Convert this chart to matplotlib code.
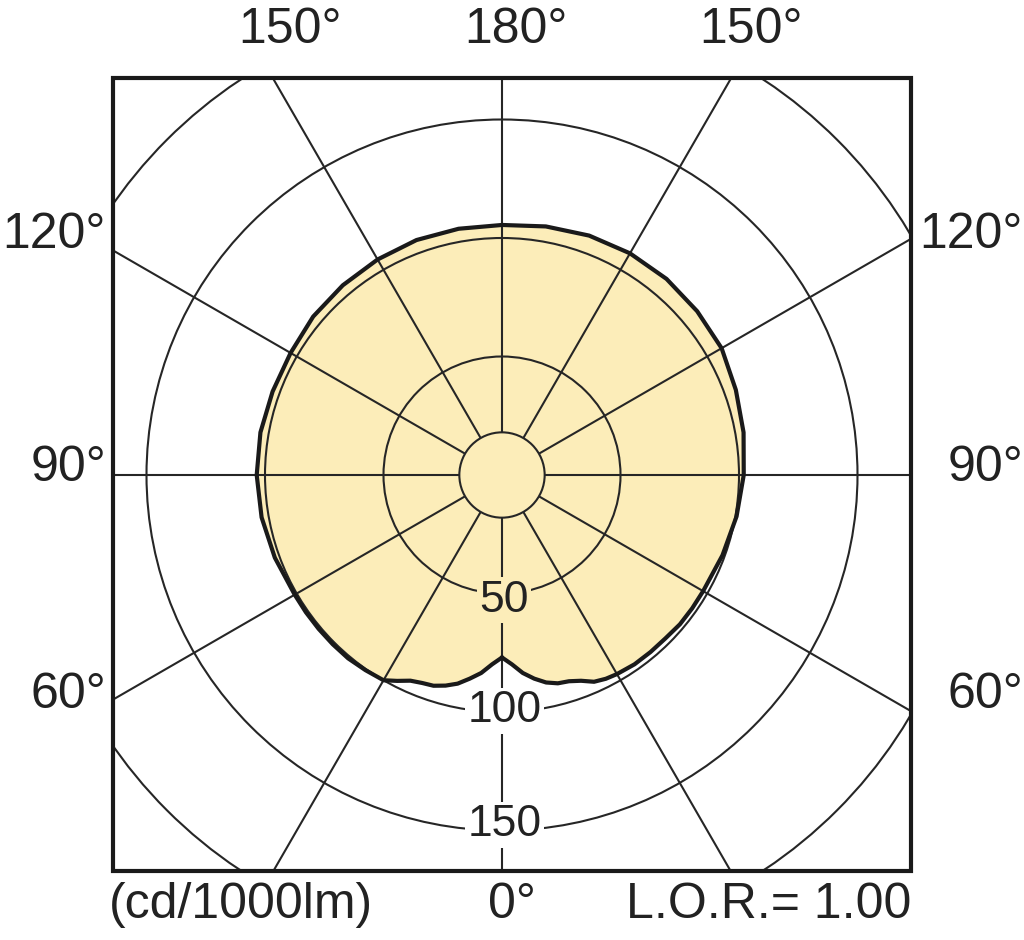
import numpy as np
import matplotlib
matplotlib.use('Agg')
import matplotlib.pyplot as plt
from matplotlib.patches import Rectangle, Circle

plt.rcParams['font.family'] = ['Liberation Sans', 'DejaVu Sans']

#### DATA ####
# gamma angle from nadir (0 = bottom), intensity in cd/1000lm
gamma = [0, 3, 6, 9, 12, 15, 18, 21, 24, 27, 30, 35, 40, 45, 50, 55, 60,
         70, 80, 90, 100, 110, 120, 130, 140, 150, 160, 170, 180]
right_cd = [77, 80, 84, 87, 89.5, 91, 91.5, 93, 95.5, 96.5, 97, 97.5, 97.5, 97.5, 98, 98, 98,
            99, 100.5, 102, 103.5, 105, 107, 107.5, 108, 108, 107.5, 106.5, 105.5]
left_cd = [77, 80, 84, 87, 90, 92, 93.5, 94, 95, 97.5, 100, 100.5, 101, 101, 101, 101, 101,
           102, 103, 103.5, 103.5, 103, 103, 104, 104.5, 105, 105.5, 105.5, 105.5]

ring_values = [50, 100, 150, 200]
ring_labels = ["50", "100", "150"]
spoke_angles = list(range(0, 360, 30))
side_labels = ["60°", "90°", "120°"]
top_labels = ["150°", "180°", "150°"]
bottom_labels = ["(cd/1000lm)", "0°", "L.O.R.= 1.00"]

# layout (pixel -> cd scale)
PX = 2.37
W, H = 1024, 940
CX, CY = 502, 475
HUB = 18

fig = plt.figure(figsize=(W / 100, H / 100), dpi=100)
ax = fig.add_axes([0, 0, 1, 1])
ax.set_xlim(-CX / PX, (W - CX) / PX)
ax.set_ylim(-(H - CY) / PX, CY / PX)
ax.set_aspect('equal')
ax.axis('off')

def px_x(p):
    return (p - CX) / PX

def px_y(p):
    return (CY - p) / PX

x0, x1 = px_x(113), px_x(911)
y0, y1 = px_y(871), px_y(78)
clip = Rectangle((x0, y0), x1 - x0, y1 - y0, transform=ax.transData, fill=False)

line_c = '#262626'
txt_c = '#222222'

# curve
g_r = np.radians(gamma)
g_l = np.radians(gamma[::-1])
xs = np.concatenate([np.array(right_cd) * np.sin(g_r), -np.array(left_cd[::-1]) * np.sin(g_l)])
ys = np.concatenate([-np.array(right_cd) * np.cos(g_r), -np.array(left_cd[::-1]) * np.cos(g_l)])
ax.fill(xs, ys, color='#fcedb9', zorder=1, lw=0)

# grid rings
for rv in ring_values:
    c = Circle((0, 0), rv, fill=False, ec=line_c, lw=1.5, zorder=2)
    ax.add_patch(c)
    c.set_clip_path(clip)
ax.add_patch(Circle((0, 0), HUB, fill=False, ec=line_c, lw=1.5, zorder=2))

# spokes
for a in spoke_angles:
    t = np.radians(a)
    l, = ax.plot([HUB * np.sin(t), 400 * np.sin(t)], [-HUB * np.cos(t), -400 * np.cos(t)],
                 color=line_c, lw=1.5, zorder=2, solid_capstyle='butt')
    l.set_clip_path(clip)

ax.plot(np.append(xs, xs[0]), np.append(ys, ys[0]), color='#1a1a1a', lw=3, zorder=3,
        solid_joinstyle='round')

# frame
ax.add_patch(Rectangle((x0, y0), x1 - x0, y1 - y0, fill=False, ec='#1a1a1a', lw=3, zorder=5))

# ring labels (placed at pixel rows of the reference)
for py, txt, bg in zip([600, 711, 825], ring_labels, ['#fcedb9', 'white', 'white']):
    ax.text(1, px_y(py), txt, ha='center', va='center', fontsize=32, color=txt_c, zorder=4,
            bbox=dict(boxstyle='square,pad=0.05', fc=bg, ec='none'))

fs = 36
# side labels
for py, txt in zip([695, 468, 235], side_labels):
    ax.text(px_x(106), px_y(py), txt, ha='right', va='center', fontsize=fs, color=txt_c)
    ax.text(px_x(1023), px_y(py), txt, ha='right', va='center', fontsize=fs, color=txt_c)

# top labels
for px, txt in zip([290, 516, 751], top_labels):
    ax.text(px_x(px), px_y(30), txt, ha='center', va='center', fontsize=fs, color=txt_c)

# bottom labels
by = px_y(905)
ax.text(px_x(109), by, bottom_labels[0], ha='left', va='center', fontsize=fs, color=txt_c)
ax.text(px_x(512), by, bottom_labels[1], ha='center', va='center', fontsize=fs, color=txt_c)
ax.text(px_x(911), by, bottom_labels[2], ha='right', va='center', fontsize=fs, color=txt_c)

fig.savefig('out.png', dpi=100, facecolor='white')
